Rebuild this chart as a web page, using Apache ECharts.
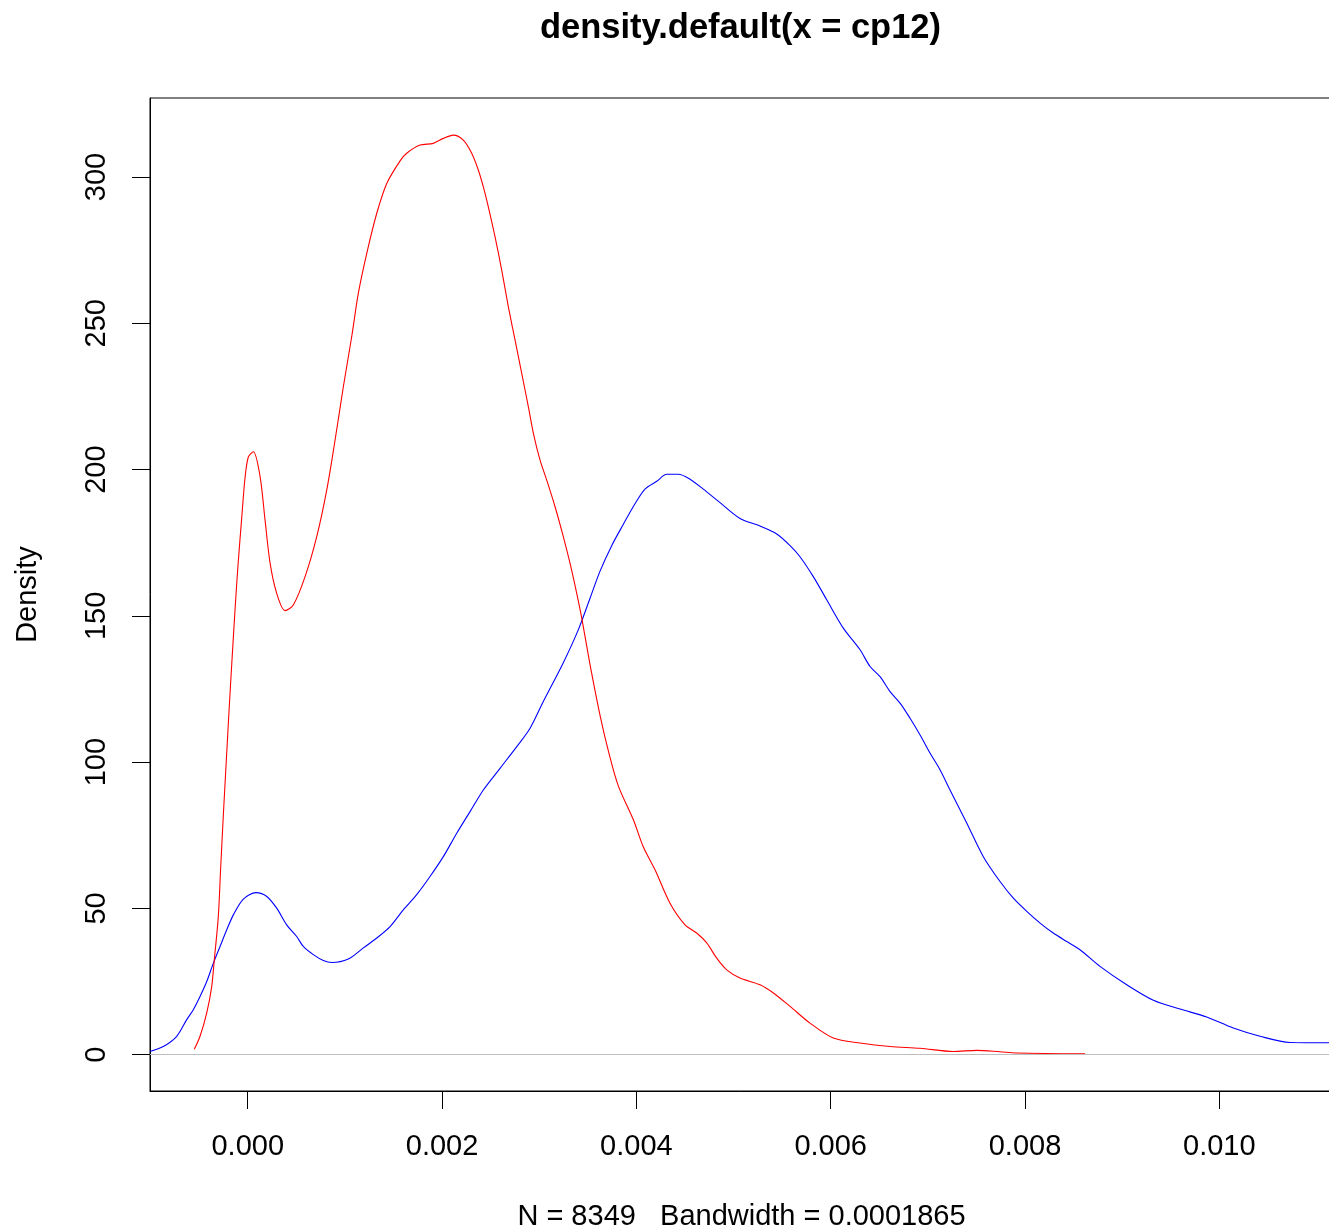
<!DOCTYPE html>
<html>
<head>
<meta charset="utf-8">
<script src="https://cdn.jsdelivr.net/npm/echarts@6/dist/echarts.min.js"></script>
<style>
html,body{margin:0;padding:0;background:#fff;overflow:hidden;width:1329px;height:1232px;}
#chart{width:1329px;height:1232px;position:absolute;left:0;top:0;}
</style>
</head>
<body>
<div id="chart"></div>
<script>
// ---- data ----
const titleText = 'density.default(x = cp12)';
const subText = 'N = 8349   Bandwidth = 0.0001865';
const yName = 'Density';
const xTicks = [0, 0.002, 0.004, 0.006, 0.008, 0.010];
const yTicks = [0, 50, 100, 150, 200, 250, 300];

const redCurve = [
  [-0.000550, 1.9], [-0.000491, 6.3], [-0.000422, 14.3], [-0.000371, 23.3], [-0.000344, 32.5],
  [-0.000303, 47.2], [-0.000278, 64.3], [-0.000251, 82.0], [-0.000223, 99.1], [-0.000193, 117.2],
  [-0.000162, 135.0], [-0.000131, 152.0], [-0.000100, 167.4], [-0.000062, 183.5], [-0.000028, 197.1],
  [0.000006, 204.3],
  [0.000058, 206.1], [0.000127, 197.6], [0.000178, 182.8], [0.000230, 168.0], [0.000298, 157.7],
  [0.000384, 151.8], [0.000469, 153.7], [0.000590, 163.4], [0.000710, 177.1], [0.000813, 193.0],
  [0.000899, 210.1], [0.000984, 228.3], [0.001070, 245.4], [0.001138, 260.2], [0.001225, 273.9],
  [0.001328, 287.6], [0.001431, 297.8], [0.001568, 305.5], [0.001636, 308.1], [0.001773, 310.9],
  [0.001910, 311.5], [0.002013, 313.2], [0.002116, 314.3], [0.002219, 312.6], [0.002305, 308.1],
  [0.002373, 302.4], [0.002425, 296.6], [0.002476, 289.8], [0.002545, 279.6], [0.002614, 268.2],
  [0.002682, 255.7], [0.002751, 244.3], [0.002820, 232.9], [0.002888, 221.5], [0.002940, 212.4],
  [0.003008, 203.3], [0.003077, 196.4], [0.003163, 187.3], [0.003248, 177.1], [0.003317, 168.0],
  [0.003386, 157.7], [0.003438, 149.2], [0.003523, 133.3], [0.003626, 116.0], [0.003711, 103.9],
  [0.003814, 91.9], [0.003969, 80.3], [0.004072, 71.0], [0.004192, 63.2], [0.004346, 51.8],
  [0.004501, 44.4], [0.004621, 41.6], [0.004724, 38.2], [0.004827, 33.0], [0.004930, 29.0],
  [0.005067, 26.2], [0.005273, 23.9], [0.005410, 21.1], [0.005582, 16.5], [0.005787, 10.8],
  [0.006027, 5.7], [0.006302, 4.0], [0.006611, 2.8], [0.006920, 2.2], [0.007262, 1.1],
  [0.007503, 1.5], [0.007743, 1.0], [0.007915, 0.6], [0.008618, 0.3]
];

const blueCurve = [
  [-0.001006, 1.1], [-0.000869, 2.8], [-0.000731, 6.3], [-0.000628, 12.0], [-0.000560, 15.4],
  [-0.000491, 19.9], [-0.000422, 25.0], [-0.000354, 31.3], [-0.000285, 37.0], [-0.000216, 42.7],
  [-0.000148, 47.8], [-0.000045, 53.2], [0.000085, 55.4], [0.000196, 54.1], [0.000298, 50.1],
  [0.000401, 44.4], [0.000504, 40.4], [0.000572, 37.0], [0.000675, 34.2], [0.000778, 32.2],
  [0.000865, 31.5], [0.001035, 32.7], [0.001190, 36.5], [0.001328, 39.9], [0.001465, 43.8],
  [0.001601, 49.5], [0.001739, 54.7], [0.001876, 60.9], [0.002013, 67.7], [0.002151, 75.7],
  [0.002288, 83.1], [0.002425, 90.5], [0.002597, 97.9], [0.002769, 105.3], [0.002906, 111.6],
  [0.003042, 120.7], [0.003248, 134.0], [0.003403, 145.3], [0.003523, 156.0], [0.003626, 165.3],
  [0.003746, 174.0], [0.003866, 181.3], [0.003969, 187.4], [0.004089, 193.3], [0.004210, 196.0],
  [0.004313, 198.4], [0.004432, 198.4], [0.004552, 196.7], [0.004689, 193.3], [0.004861, 188.7],
  [0.005067, 183.3], [0.005273, 180.7], [0.005445, 178.0], [0.005582, 174.0], [0.005684, 170.2],
  [0.005821, 163.4], [0.005959, 155.5], [0.006130, 145.8], [0.006302, 138.4], [0.006405, 132.7],
  [0.006508, 129.2], [0.006611, 124.1], [0.006714, 120.2], [0.006817, 115.0], [0.006920, 109.3],
  [0.007022, 103.1], [0.007125, 97.4], [0.007228, 90.5], [0.007400, 79.2], [0.007571, 67.7],
  [0.007743, 59.2], [0.007880, 53.5], [0.008018, 49.0], [0.008155, 45.0], [0.008291, 41.6],
  [0.008429, 38.7], [0.008566, 35.9], [0.008772, 30.2], [0.009047, 23.9], [0.009321, 18.6],
  [0.009596, 15.6], [0.009870, 12.9], [0.010144, 9.1], [0.010419, 6.3], [0.010728, 4.2],
  [0.011150, 4.1]
];

// ---- chart ----
const FONT = '"Liberation Sans", Arial, Helvetica, sans-serif';
const FS = 29;
const chart = echarts.init(document.getElementById('chart'), null, {renderer: 'canvas', width: 1329, height: 1232});

chart.setOption({
  animation: false,
  backgroundColor: '#ffffff',
  title: {
    text: titleText,
    left: 740.5,
    top: 28,
    padding: 0,
    textAlign: 'center',
    textVerticalAlign: 'middle',
    textStyle: {fontFamily: FONT, fontSize: 34.5, fontWeight: 'bold', color: '#000'}
  },
  grid: {
    left: 150, top: 98, right: -4, bottom: 141,
    show: true, borderColor: '#000', borderWidth: 1, backgroundColor: 'transparent',
    containLabel: false,
    outerBoundsMode: 'none'
  },
  xAxis: {
    type: 'value',
    min: -0.001006, max: 0.011170,
    name: subText,
    nameLocation: 'middle',
    nameGap: 111,
    nameTextStyle: {fontFamily: FONT, fontSize: FS, color: '#000'},
    axisLine: {show: true, onZero: false, lineStyle: {color: '#000', width: 1}},
    axisTick: {show: true, inside: false, length: 18, customValues: xTicks, lineStyle: {color: '#000', width: 1}},
    axisLabel: {show: true, customValues: xTicks, margin: 41, fontFamily: FONT, fontSize: FS, color: '#000',
      formatter: v => v.toFixed(3)},
    splitLine: {show: false}
  },
  yAxis: {
    type: 'value',
    min: -12.4, max: 327,
    name: yName,
    nameLocation: 'middle',
    nameGap: 108,
    nameTextStyle: {fontFamily: FONT, fontSize: FS, color: '#000'},
    axisLine: {show: true, onZero: false, lineStyle: {color: '#000', width: 1}},
    axisTick: {show: true, inside: false, length: 18, customValues: yTicks, lineStyle: {color: '#000', width: 1}},
    axisLabel: {show: true, customValues: yTicks, rotate: 90, margin: 39, fontFamily: FONT, fontSize: FS, color: '#000',
      formatter: v => String(v)},
    splitLine: {show: false}
  },
  series: [
    {
      type: 'line', name: 'blue', data: blueCurve, showSymbol: false, symbol: 'none',
      smooth: 0.3, clip: true,
      lineStyle: {color: '#0000ff', width: 1.1},
      markLine: {
        silent: true, symbol: 'none', animation: false,
        label: {show: false},
        lineStyle: {color: '#bebebe', width: 1, type: 'solid'},
        data: [{yAxis: 0}]
      },
      z: 3
    },
    {
      type: 'line', name: 'red', data: redCurve, showSymbol: false, symbol: 'none',
      smooth: 0.3, clip: true,
      lineStyle: {color: '#ff0000', width: 1.1},
      z: 4
    }
  ]
});
</script>
</body>
</html>
